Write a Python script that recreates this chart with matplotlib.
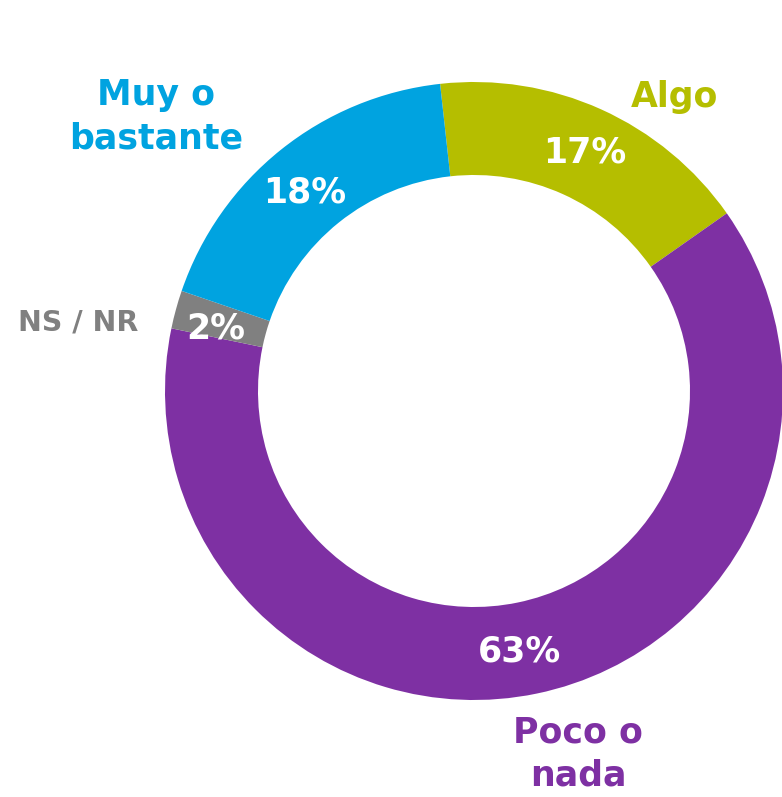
import matplotlib
matplotlib.use("Agg")
import matplotlib.pyplot as plt

categories = ["Algo", "Poco o nada", "NS / NR", "Muy o bastante"]
values = [17, 63, 2, 18]
pct_labels = ["17%", "63%", "2%", "18%"]
colors = ["#b5be00", "#7e30a3", "#808080", "#00a3e0"]
cat_labels = ["Algo", "Poco o\nnada", "NS / NR", "Muy o\nbastante"]

W, H = 782, 797
fig = plt.figure(figsize=(W / 100, H / 100), dpi=100)
ax = fig.add_axes([0, 0, 1, 1])

cx, cy = 474, H - 391
R = 309
width = 93

wedges, _ = ax.pie(values, colors=colors, startangle=96.3, counterclock=False,
                   center=(cx, cy), radius=R,
                   wedgeprops=dict(width=width, edgecolor="none", linewidth=0))
ax.set_xlim(0, W)
ax.set_ylim(0, H)
ax.set_aspect("equal")
ax.axis("off")

font = "DejaVu Sans"
# percentage labels (white, inside ring)
pct_pos = [(585, 152), (520, 651), (216, 328), (305, 192)]
for (x, y), t in zip(pct_pos, pct_labels):
    ax.text(x, H - y, t, color="white", fontsize=25, fontweight="bold",
            family=font, ha="center", va="center")

# category labels
cat_pos = [(675, 97), (578, 754), (78, 322), (156, 117)]
sizes = [25, 25, 20.5, 25]
for (x, y), t, c, s in zip(cat_pos, cat_labels, colors, sizes):
    ax.text(x, H - y, t, color=c, fontsize=s, fontweight="bold",
            family=font, ha="center", va="center", linespacing=1.35)

fig.savefig("out.png", dpi=100)
